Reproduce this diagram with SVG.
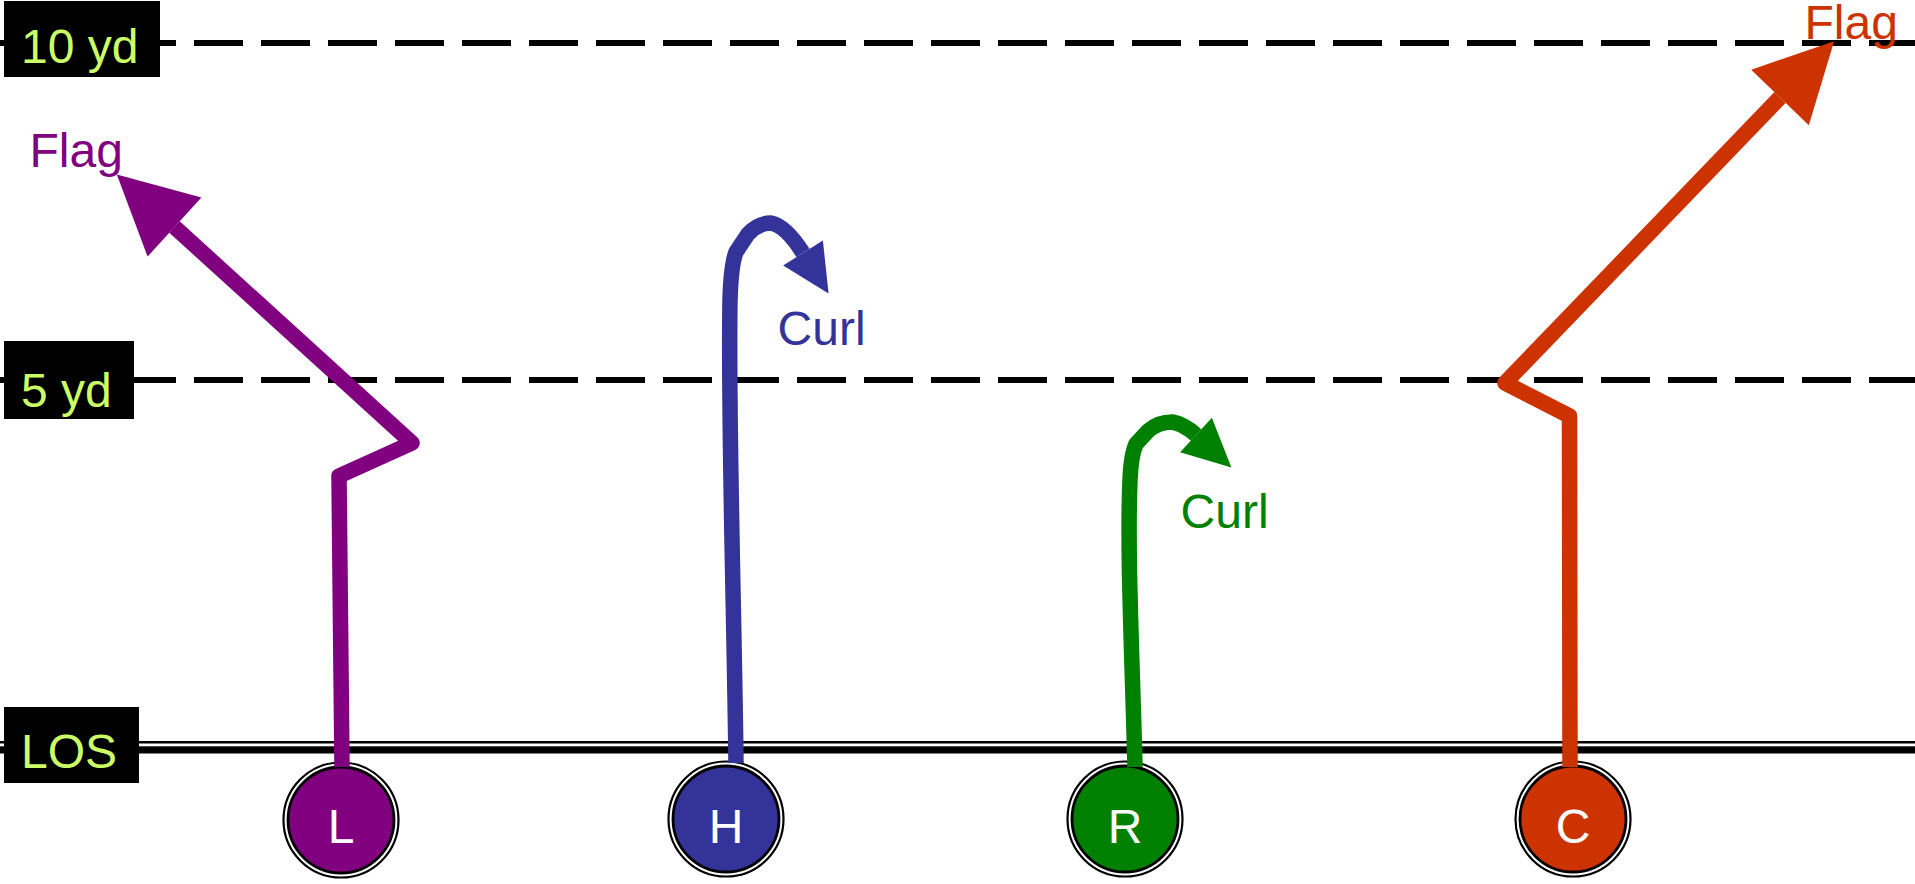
<svg xmlns="http://www.w3.org/2000/svg" width="1915" height="884" viewBox="0 0 1915 884">
<style>
.lbl{font-family:"Liberation Sans",Arial,sans-serif;font-size:48px;fill:#ccff66}
.box{fill:#000}
.yard{stroke:#000;stroke-width:6;stroke-dasharray:49 18;stroke-dashoffset:7;fill:none}
.ring{fill:#fff;stroke:#000;stroke-width:2.2}
.ptxt{font-family:"Liberation Sans",Arial,sans-serif;font-size:48px;fill:#fff;text-anchor:middle}
.rt{fill:none;stroke-width:15.5;stroke-linejoin:round;stroke-linecap:butt}
.rlbl{font-family:"Liberation Sans",Arial,sans-serif;font-size:48px}
</style>
<defs>
<marker id="ah-purple" markerUnits="userSpaceOnUse" orient="auto" refX="0" refY="0" markerWidth="80" markerHeight="80" overflow="visible"><path d="M0,-40 L78,0 L0,40 Z" fill="#800080"/></marker>
<marker id="ah-orange" markerUnits="userSpaceOnUse" orient="auto" refX="0" refY="0" markerWidth="80" markerHeight="80" overflow="visible"><path d="M0,-40 L78,0 L0,40 Z" fill="#cc3300"/></marker>
<marker id="ah-blue" markerUnits="userSpaceOnUse" orient="auto" refX="0" refY="0" markerWidth="50" markerHeight="50" overflow="visible"><path d="M0,-23.5 L48,0 L0,23.5 Z" fill="#333399"/></marker>
<marker id="ah-green" markerUnits="userSpaceOnUse" orient="auto" refX="0" refY="0" markerWidth="50" markerHeight="50" overflow="visible"><path d="M0,-23.5 L48,0 L0,23.5 Z" fill="#008000"/></marker>
</defs>
<rect width="1915" height="884" fill="#fff"/>
<g id="field">
<line class="yard" x1="0" y1="43" x2="1915" y2="43"/>
<line class="yard" x1="0" y1="380" x2="1915" y2="380"/>
<rect x="0" y="741" width="1915" height="12.5" fill="#000"/>
<rect x="0" y="743.5" width="1915" height="2.8" fill="#fff"/>
</g>
<g id="label-10yd"><rect class="box" x="4" y="1" width="156" height="76"/><text class="lbl" x="21" y="63">10 yd</text></g>
<g id="label-5yd"><rect class="box" x="4" y="341" width="130" height="78"/><text class="lbl" x="21" y="407">5 yd</text></g>
<g id="label-los"><rect class="box" x="4" y="707" width="135" height="76"/><text class="lbl" x="21" y="768">LOS</text></g>
<g id="player-L"><circle class="ring" cx="341" cy="820" r="57.5"/><circle cx="341" cy="820" r="53" fill="#800080" stroke="#000" stroke-width="2.8"/><text class="ptxt" x="341" y="843">L</text></g>
<g id="player-H"><circle class="ring" cx="726" cy="819" r="57.5"/><circle cx="726" cy="819" r="53" fill="#333399" stroke="#000" stroke-width="2.8"/><text class="ptxt" x="726" y="843">H</text></g>
<g id="player-R"><circle class="ring" cx="1125" cy="819" r="57.5"/><circle cx="1125" cy="819" r="53" fill="#008000" stroke="#000" stroke-width="2.8"/><text class="ptxt" x="1125" y="843">R</text></g>
<g id="player-C"><circle class="ring" cx="1573" cy="819" r="57.5"/><circle cx="1573" cy="819" r="53" fill="#cc3300" stroke="#000" stroke-width="2.8"/><text class="ptxt" x="1573" y="843">C</text></g>
<g id="connectors">
<path class="rt" stroke="#800080" d="M342,767 L339,476 L412,443 L174.5,227" marker-end="url(#ah-purple)"/>
<path class="rt" stroke="#333399" d="M736,763 C734,600 728,420 730,300 Q731,265 736,252 L748,234 Q758,223 771,223 Q786,226 803,253" marker-end="url(#ah-blue)"/>
<path class="rt" stroke="#008000" d="M1135,767 C1132,650 1127,550 1130,480 Q1131,455 1136,444 L1148,431 Q1158,422 1172,422 Q1184,424 1196,435" marker-end="url(#ah-green)"/>
<path class="rt" stroke="#cc3300" d="M1570,767 L1569.5,416 L1505,383 L1780,97.5" marker-end="url(#ah-orange)"/>
</g>
<g id="route-labels">
<text class="rlbl" x="29.5" y="167" fill="#800080">Flag</text>
<text class="rlbl" x="777.6" y="345" fill="#333399">Curl</text>
<text class="rlbl" x="1180.6" y="528" fill="#008000">Curl</text>
<text class="rlbl" x="1804.5" y="39" fill="#cc3300">Flag</text>
</g>
</svg>
